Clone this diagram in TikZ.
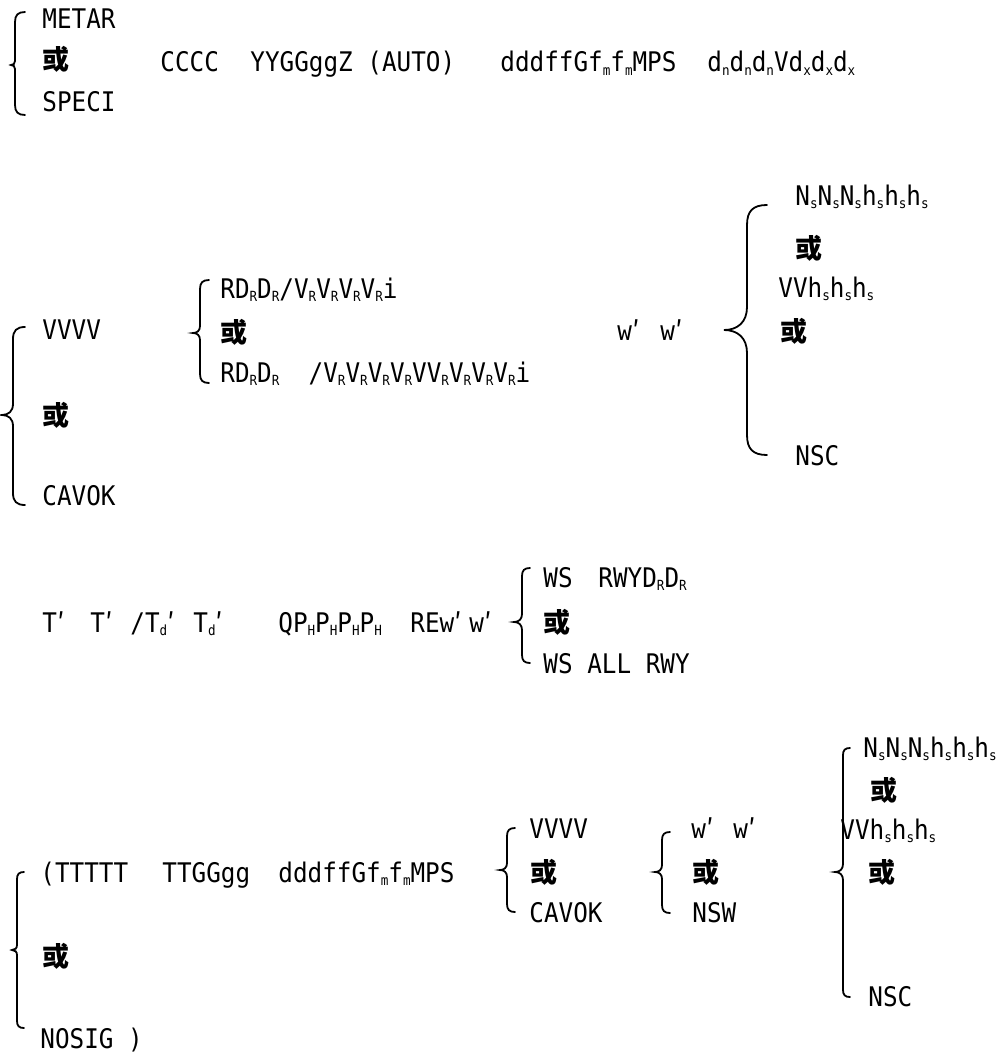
\documentclass[tikz,border=0pt]{standalone}
\usepackage{fontspec}
\newfontfamily\codefont[FakeStretch=0.9]{DejaVu Sans Mono}
\newfontfamily\cjk{Noto Sans CJK SC}
\newcommand{\ix}[1]{\raisebox{-0.25ex}{\fontsize{7}{8}\selectfont #1}}
\newcommand{\pr}{{\cjk ′}}
% left brace: x of stem, top, middle, bottom, curl size, tip size
\newcommand{\curly}[6]{%
  \draw[bracket] (#1+#5,#2) .. controls (#1+0.3*#5,#2) and (#1,#2+0.3*#5) .. (#1,#2+#5)
    -- (#1,#3-#6) .. controls (#1,#3-0.35*#6) and (#1-0.4*#6,#3) .. (#1-#6,#3)
    .. controls (#1-0.4*#6,#3) and (#1,#3+0.35*#6) .. (#1,#3+#6)
    -- (#1,#4-#5) .. controls (#1,#4-0.3*#5) and (#1+0.3*#5,#4) .. (#1+#5,#4);}
\tikzset{
  tok/.style={anchor=base west,inner sep=0pt,
    font=\codefont\fontsize{13.5}{16}\selectfont},
  orword/.style={anchor=base west,inner sep=0pt,
    font=\cjk\bfseries\fontsize{13.5}{16}\selectfont},
  bracket/.style={line width=0.9pt,line cap=round}
}
\begin{document}
\begin{tikzpicture}[x=0.5pt,y=-0.5pt]
  \useasboundingbox (0,0) rectangle (1001,1054);
  % report type and heading
  \curly{15}{12}{65}{115}{10}{4}
  \node[tok] (metar) at (42,29) {METAR};
  \node[orword] (or1) at (42,70) {或};
  \node[tok] (speci) at (42,112) {SPECI};
  \node[tok] (cccc) at (160,72) {CCCC};
  \node[tok] (time) at (250,72) {YYGGggZ};
  \node[tok] (auto) at (367,72) {(AUTO)};
  \node[tok] (wind) at (500,72) {dddffGf\ix{m}f\ix{m}MPS};
  \node[tok] (varwind) at (707,72) {d\ix{n}d\ix{n}d\ix{n}Vd\ix{x}d\ix{x}d\ix{x}};
  % visibility, runway range, weather, cloud
  \curly{13}{327}{415}{505}{12}{11}
  \node[tok] (vis) at (42,339) {VVVV};
  \node[orword] (or2) at (42,425) {或};
  \node[tok] (cavok) at (42,505) {CAVOK};
  \curly{200}{280}{333}{383}{9}{7}
  \node[tok] (rvra) at (220,298) {RD\ix{R}D\ix{R}/V\ix{R}V\ix{R}V\ix{R}V\ix{R}i};
  \node[orword] (or3) at (220,342) {或};
  \node[tok] (rvrb) at (220,382)
    {RD\ix{R}D\ix{R}\ \ /V\ix{R}V\ix{R}V\ix{R}V\ix{R}VV\ix{R}V\ix{R}V\ix{R}V\ix{R}i};
  \node[tok] (wxa) at (617,340) {w\pr};
  \node[tok] (wxb) at (660,340) {w\pr};
  \curly{747}{205}{330}{455}{20}{23}
  \node[tok] (clouda) at (795,205) {N\ix{s}N\ix{s}N\ix{s}h\ix{s}h\ix{s}h\ix{s}};
  \node[orword] (or4) at (795,258) {或};
  \node[tok] (vva) at (778,297) {VVh\ix{s}h\ix{s}h\ix{s}};
  \node[orword] (or5) at (780,341) {或};
  \node[tok] (nsca) at (795,465) {NSC};
  % temperature, pressure, recent weather, wind shear
  \node[tok] (tempa) at (42,632) {T\pr};
  \node[tok] (tempb) at (90,632) {T\pr};
  \node[tok] (dewa) at (130,632) {/T\ix{d}\pr};
  \node[tok] (dewb) at (193,632) {T\ix{d}\pr};
  \node[tok] (qnh) at (278,632) {QP\ix{H}P\ix{H}P\ix{H}P\ix{H}};
  \node[tok] (rewa) at (410,632) {REw\pr};
  \node[tok] (rewb) at (469,632) {w\pr};
  \curly{522}{568}{622}{663}{8}{8}
  \node[tok] (wsa) at (543,587) {WS};
  \node[tok] (rwy) at (598,587) {RWYD\ix{R}D\ix{R}};
  \node[orword] (or6) at (543,632) {或};
  \node[tok] (wsb) at (543,673) {WS ALL RWY};
  % trend
  \curly{17}{872}{950}{1028}{7}{5}
  \node[tok] (trend) at (40,882) {(TTTTT};
  \node[tok] (ttime) at (162,882) {TTGGgg};
  \node[tok] (twind) at (278,882) {dddffGf\ix{m}f\ix{m}MPS};
  \node[orword] (or7) at (42,966) {或};
  \node[tok] (nosig) at (40,1048) {NOSIG )};
  \curly{507}{828}{870}{912}{8}{7}
  \node[tok] (tvis) at (529,838) {VVVV};
  \node[orword] (or8) at (530,882) {或};
  \node[tok] (tcavok) at (529,922) {CAVOK};
  \curly{662}{832}{872}{913}{8}{7}
  \node[tok] (twa) at (691,838) {w\pr};
  \node[tok] (twb) at (733,838) {w\pr};
  \node[orword] (or9) at (692,882) {或};
  \node[tok] (nsw) at (692,922) {NSW};
  \curly{843}{748}{872}{997}{7}{8}
  \node[tok] (tcloud) at (863,757) {N\ix{s}N\ix{s}N\ix{s}h\ix{s}h\ix{s}h\ix{s}};
  \node[orword] (or10) at (870,800) {或};
  \node[tok] (tvv) at (840,839) {VVh\ix{s}h\ix{s}h\ix{s}};
  \node[orword] (or11) at (868,882) {或};
  \node[tok] (tnsc) at (868,1006) {NSC};
\end{tikzpicture}
\end{document}
